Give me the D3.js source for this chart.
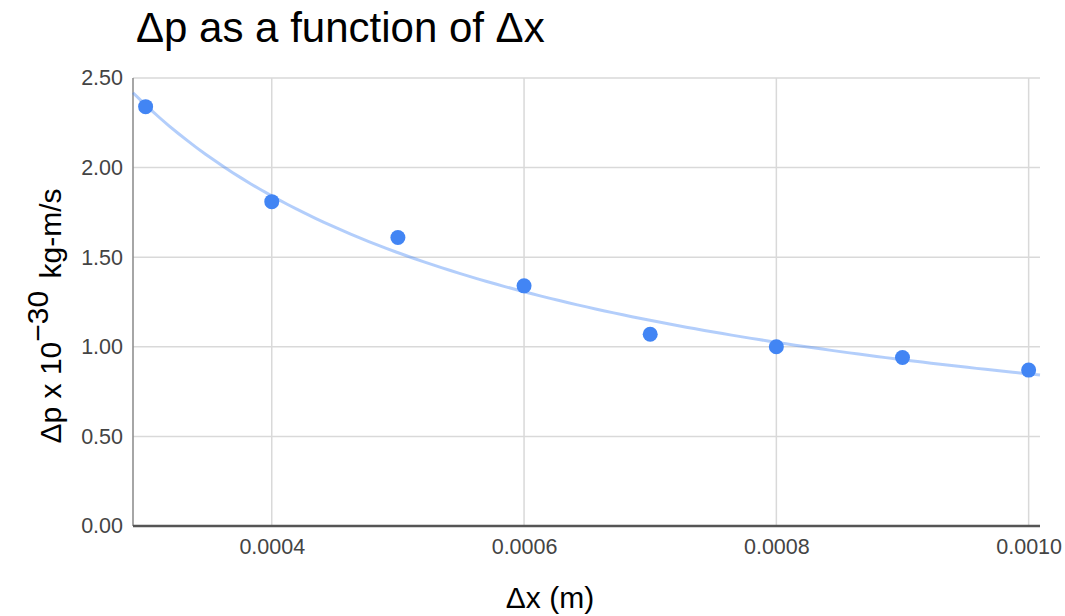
<!DOCTYPE html>
<html>
<head>
<meta charset="utf-8">
<script src="https://cdn.jsdelivr.net/npm/d3@7"></script>
<style>
  body { margin: 0; background: #fff; }
  text { font-family: Arial, "Liberation Sans", sans-serif; }
</style>
</head>
<body>
<svg id="svg1" width="1065" height="616"></svg>
<script>
// data
var dxValues = [0.0003, 0.0004, 0.0005, 0.0006, 0.0007, 0.0008, 0.0009, 0.0010];
var dpValues = [2.34, 1.81, 1.61, 1.34, 1.07, 1.00, 0.94, 0.87];
var xTicks = [0.0004, 0.0006, 0.0008, 0.0010];
var yTicks = [0, 0.5, 1.0, 1.5, 2.0, 2.5];

var plotLeft = 133, plotRight = 1040, plotTop = 78, plotBottom = 526;
var svg = d3.select('#svg1');

var x = d3.scaleLinear().domain([0.00029, 0.001009]).range([plotLeft, plotRight]);
var y = d3.scaleLinear().domain([0, 2.5]).range([plotBottom, plotTop]);

// gridlines
svg.append('g').selectAll('line').data(yTicks.slice(1)).enter().append('line')
    .attr('x1', plotLeft).attr('x2', plotRight)
    .attr('y1', function (d) { return y(d); })
    .attr('y2', function (d) { return y(d); })
    .attr('stroke', '#d9d9d9').attr('stroke-width', 1.5);
svg.append('g').selectAll('line').data(xTicks).enter().append('line')
    .attr('x1', function (d) { return x(d); })
    .attr('x2', function (d) { return x(d); })
    .attr('y1', plotTop).attr('y2', plotBottom)
    .attr('stroke', '#d9d9d9').attr('stroke-width', 1.5);

// y tick labels
var yAxis = svg.append('g').attr('transform', 'translate(' + plotLeft + ',0)')
    .call(d3.axisLeft(y).tickValues(yTicks).tickFormat(d3.format('.2f')).tickSize(0).tickPadding(10));
yAxis.select('.domain').remove();
yAxis.selectAll('text').attr('font-size', 21.5).attr('fill', '#444')
    .attr('font-family', 'Arial, "Liberation Sans", sans-serif');

// x tick labels
var xAxis = svg.append('g').attr('transform', 'translate(0,' + plotBottom + ')')
    .call(d3.axisBottom(x).tickValues(xTicks).tickFormat(d3.format('.4f')).tickSize(0).tickPadding(13));
xAxis.select('.domain').remove();
xAxis.selectAll('text').attr('font-size', 21.5).attr('fill', '#444')
    .attr('font-family', 'Arial, "Liberation Sans", sans-serif');

// axis lines
svg.append('line').attr('x1', plotLeft).attr('x2', plotLeft).attr('y1', plotTop).attr('y2', plotBottom)
    .attr('stroke', '#888').attr('stroke-width', 1.5);
svg.append('line').attr('x1', plotLeft).attr('x2', plotRight).attr('y1', plotBottom).attr('y2', plotBottom)
    .attr('stroke', '#555').attr('stroke-width', 2.5);

// power trendline, least squares on logs
var lx = dxValues.map(Math.log), ly = dpValues.map(Math.log);
var mx = d3.mean(lx), my = d3.mean(ly);
var b = d3.sum(lx, function (v, i) { return (v - mx) * (ly[i] - my); }) / d3.sum(lx, function (v) { return (v - mx) * (v - mx); });
var a = Math.exp(my - b * mx);
var trendX = d3.range(0, 101).map(function (i) { return x.domain()[0] + (x.domain()[1] - x.domain()[0]) * i / 100; });
svg.append('path')
    .datum(trendX)
    .attr('d', d3.line().x(function (d) { return x(d); }).y(function (d) { return y(a * Math.pow(d, b)); }))
    .attr('fill', 'none').attr('stroke', '#4285f4').attr('stroke-opacity', 0.4).attr('stroke-width', 3);

// points
svg.append('g').selectAll('circle').data(dxValues).enter().append('circle')
    .attr('cx', function (d) { return x(d); })
    .attr('cy', function (d, i) { return y(dpValues[i]); })
    .attr('r', 7.5)
    .attr('fill', '#4285f4');

// title
svg.append('text').attr('x', 136).attr('y', 42)
    .attr('font-size', 42).attr('fill', '#000')
    .text('\u0394p as a function of \u0394x');

// axis titles
svg.append('text').attr('x', 550).attr('y', 608)
    .attr('text-anchor', 'middle').attr('font-size', 30).attr('fill', '#000')
    .text('\u0394x (m)');

var yt = svg.append('text')
    .attr('transform', 'translate(61,316) rotate(-90)')
    .attr('text-anchor', 'middle').attr('font-size', 30).attr('fill', '#000');
yt.append('tspan').text('\u0394p x 10');
yt.append('tspan').attr('dy', -13).text('\u221230');
yt.append('tspan').attr('dy', 13).attr('dx', 4).text(' kg-m/s');
</script>
</body>
</html>
